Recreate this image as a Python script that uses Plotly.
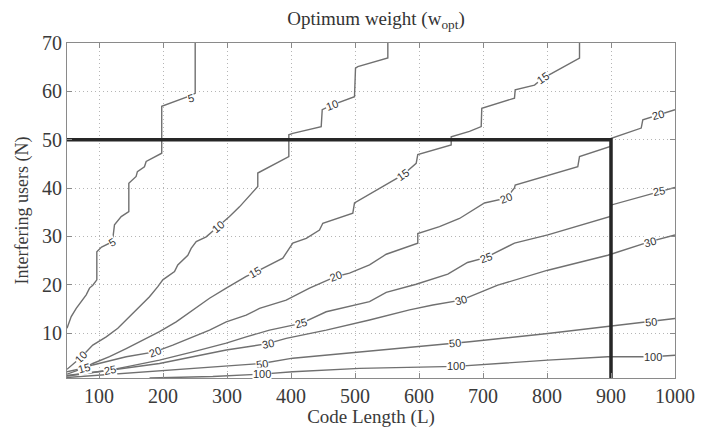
import plotly.graph_objects as go

# ---- contour lines: Code Length L vs Interfering users N ----
L5 = [50, 56.6, 64.4, 72.2, 80, 85.2, 90.3, 96.6, 96.6, 104, 121, 124.2, 134.7, 146.6, 146.6, 158, 160, 171, 173.7, 198, 198, 238.8, 250.3, 250.3]
N5 = [11.0, 13.4, 15.1, 16.5, 17.9, 19.3, 19.9, 21.0, 26.8, 27.8, 28.9, 32.4, 34.1, 35.1, 41.0, 42.4, 43.4, 44.4, 45.5, 47.2, 56.9, 58.9, 59.6, 70]

L10 = [50, 72, 90.3, 111.3, 129.4, 147.7, 163.3, 178.9, 191.9, 199.7, 218, 223.1, 238.8, 244, 251.9, 267.5, 285.6, 303.9, 319.5, 348.1, 348.1, 387.2, 396.6, 396.6, 402.8, 447.2, 448.8, 464.8, 499.2, 500.8, 504.4, 551.3, 551.3]
N10 = [2.5, 5.0, 7.5, 9.2, 11.0, 13.4, 15.4, 17.5, 19.6, 21.0, 22.7, 24.1, 26.1, 27.5, 28.9, 29.9, 32.0, 34.1, 36.1, 40.3, 43.1, 45.8, 46.5, 51.0, 51.3, 52.7, 56.2, 57.2, 58.9, 64.8, 65.1, 66.9, 70]

L15 = [50, 77, 90.3, 116.4, 142.5, 168.4, 194.5, 220.6, 272.7, 298.8, 330, 344.5, 361.3, 387.2, 402.8, 423.8, 444.5, 449.7, 496.6, 499.2, 574.7, 595.6, 598.1, 650.3, 650.3, 678.9, 697.2, 698.1, 749.2, 750.3, 780.5, 793.4, 850.8, 850.8]
N15 = [2.0, 2.8, 3.7, 5.1, 6.8, 8.6, 10.3, 12.3, 17.2, 19.3, 21.7, 22.6, 23.7, 25.5, 28.6, 29.6, 31.3, 32.7, 34.8, 36.9, 42.7, 45.1, 46.9, 48.9, 50.6, 51.7, 52.7, 56.5, 58.6, 60.3, 61.3, 62.7, 66.9, 70]

L20 = [50, 90.3, 142.5, 187, 215.3, 246.6, 272.7, 298.8, 330, 350.8, 392.5, 428.9, 470.6, 491.4, 522.7, 548.8, 574.7, 598.1, 598.1, 632, 663.3, 702.3, 736.2, 749.2, 750.3, 848.1, 850.8, 899, 900.5, 947.2, 949.7, 973.1, 1000]
N20 = [1.5, 3.4, 5.1, 6.1, 7.5, 9.2, 10.6, 12.3, 13.7, 15.1, 16.8, 19.3, 21.7, 22.4, 24.1, 26.3, 27.5, 28.6, 30.6, 32.0, 33.7, 36.9, 37.9, 40.0, 40.6, 44.4, 46.5, 48.6, 50.3, 52.4, 54.1, 55.1, 56.2]

L25 = [50, 116.4, 142.5, 194.5, 246.6, 298.8, 330, 366.4, 416, 455, 522.7, 548.8, 595.6, 645, 675.8, 703.9, 749.2, 801.3, 899, 900.8, 977.3, 1000]
N25 = [1.2, 2.3, 3.0, 4.4, 6.1, 7.9, 9.2, 10.6, 12.0, 14.4, 16.5, 18.4, 20.1, 22.2, 24.6, 25.6, 28.6, 30.3, 34.1, 36.5, 39.3, 40.1]

L30 = [50, 142.5, 194.5, 246.6, 298.8, 363.3, 392.5, 455, 522.7, 585.2, 621.6, 666, 723.1, 801.3, 895, 960.8, 1000]
N30 = [1.1, 2.7, 3.7, 5.1, 6.5, 7.8, 8.9, 10.6, 12.7, 14.8, 15.8, 16.8, 19.9, 23.0, 26.1, 28.9, 30.3]

L50 = [50, 142.5, 246.6, 354, 402.8, 507, 611.3, 655.5, 678.9, 801.3, 895, 962.8, 1000]
N50 = [0.8, 1.7, 2.7, 3.7, 4.8, 6.1, 7.5, 7.9, 8.2, 9.9, 11.3, 12.3, 13.0]

L100 = [179, 277.8, 354, 402.8, 507, 658, 801.3, 895, 965.3, 1000]
N100 = [0.7, 1.0, 1.5, 2.0, 2.7, 3.1, 4.4, 5.1, 5.1, 5.4]

LEVELS = [5, 10, 15, 20, 25, 30, 50, 100]
CONTOURS = {5: (L5, N5), 10: (L10, N10), 15: (L15, N15), 20: (L20, N20),
            25: (L25, N25), 30: (L30, N30), 50: (L50, N50), 100: (L100, N100)}

# ---- inline contour labels: level, L, N, rotation ----
LABEL_LEVEL = [5, 5, 10, 10, 10, 15, 15, 15, 15, 20, 20, 20, 20, 25, 25, 25, 25, 30, 30, 30, 50, 50, 50, 100, 100, 100]
LABEL_L = [121, 244, 72, 285.6, 464.8, 77, 344.5, 574.7, 793.4, 187, 470.6, 736.2, 973.1, 116.4, 416, 703.9, 975, 363.3, 666, 960.8, 354, 655.5, 962.8, 354, 658, 965.3]
LABEL_N = [28.9, 58.6, 5.0, 32.0, 57.2, 2.8, 22.6, 42.7, 62.7, 6.1, 21.7, 37.9, 55.1, 2.3, 12.0, 25.6, 39.3, 7.8, 16.8, 28.9, 3.7, 7.9, 12.3, 1.5, 3.1, 5.1]
LABEL_ANGLE = [-30, -15, -45, -40, -20, -15, -30, -35, -35, -20, -20, -20, -15, -10, -15, -20, -10, -12, -15, -15, -8, -5, -5, 0, 0, 0]

# ---- operating point marked by the thick black lines ----
TARGET_L = 900
TARGET_N = 50

X_TICKS = [100, 200, 300, 400, 500, 600, 700, 800, 900, 1000]
Y_TICKS = [10, 20, 30, 40, 50, 60, 70]
X_RANGE = [50, 1000]
Y_RANGE = [0.7, 70]

fig = go.Figure()
for lv in LEVELS:
    xs, ys = CONTOURS[lv]
    fig.add_trace(go.Scatter(x=xs, y=ys, mode="lines", line=dict(color="#707070", width=1.4),
                             hoverinfo="skip", showlegend=False))

fig.add_trace(go.Scatter(x=[X_RANGE[0], TARGET_L, TARGET_L], y=[TARGET_N, TARGET_N, Y_RANGE[0]],
                         mode="lines", line=dict(color="#262626", width=3.5),
                         hoverinfo="skip", showlegend=False))

for lv, lx, ly, ang in zip(LABEL_LEVEL, LABEL_L, LABEL_N, LABEL_ANGLE):
    fig.add_annotation(x=lx, y=ly, text=str(lv), showarrow=False, textangle=ang,
                       font=dict(family="Liberation Sans, Arial, sans-serif", size=11, color="#333333"),
                       bgcolor="white", borderpad=0)

serif = "Liberation Serif, Times New Roman, serif"
# the page body adds an 8px offset, so the figure is sized to fit inside the window
fig.update_layout(
    width=701, height=420,
    margin=dict(l=59, r=34, t=35, b=50),
    paper_bgcolor="white", plot_bgcolor="white",
    title=dict(text="Optimum weight (w<sub>opt</sub>)", x=0.525, xanchor="center", y=0.975, yanchor="middle",
               font=dict(family=serif, size=19, color="#333333")),
    xaxis=dict(range=X_RANGE, tickvals=X_TICKS, ticktext=[str(v) for v in X_TICKS],
               automargin=False,
               showgrid=True, gridcolor="#b5b5b5", griddash="1px,3px", gridwidth=1,
               showline=True, linecolor="#8a8a8a", linewidth=1.2, mirror="ticks",
               ticks="inside", ticklen=5, tickcolor="#8a8a8a", zeroline=False,
               tickfont=dict(family=serif, size=20, color="#3a3a3a"),
               title=dict(text="Code Length (L)", standoff=2,
                          font=dict(family=serif, size=19, color="#3a3a3a"))),
    yaxis=dict(range=Y_RANGE, tickvals=Y_TICKS, ticktext=[str(v) for v in Y_TICKS],
               automargin=False,
               showgrid=True, gridcolor="#b5b5b5", griddash="1px,3px", gridwidth=1,
               showline=True, linecolor="#8a8a8a", linewidth=1.2, mirror="ticks",
               ticks="inside", ticklen=5, tickcolor="#8a8a8a", zeroline=False,
               tickfont=dict(family=serif, size=20, color="#3a3a3a"),
               title=dict(text="Interfering users (N)", standoff=8,
                          font=dict(family=serif, size=18, color="#3a3a3a"))),
)

fig.write_html("out.html")
